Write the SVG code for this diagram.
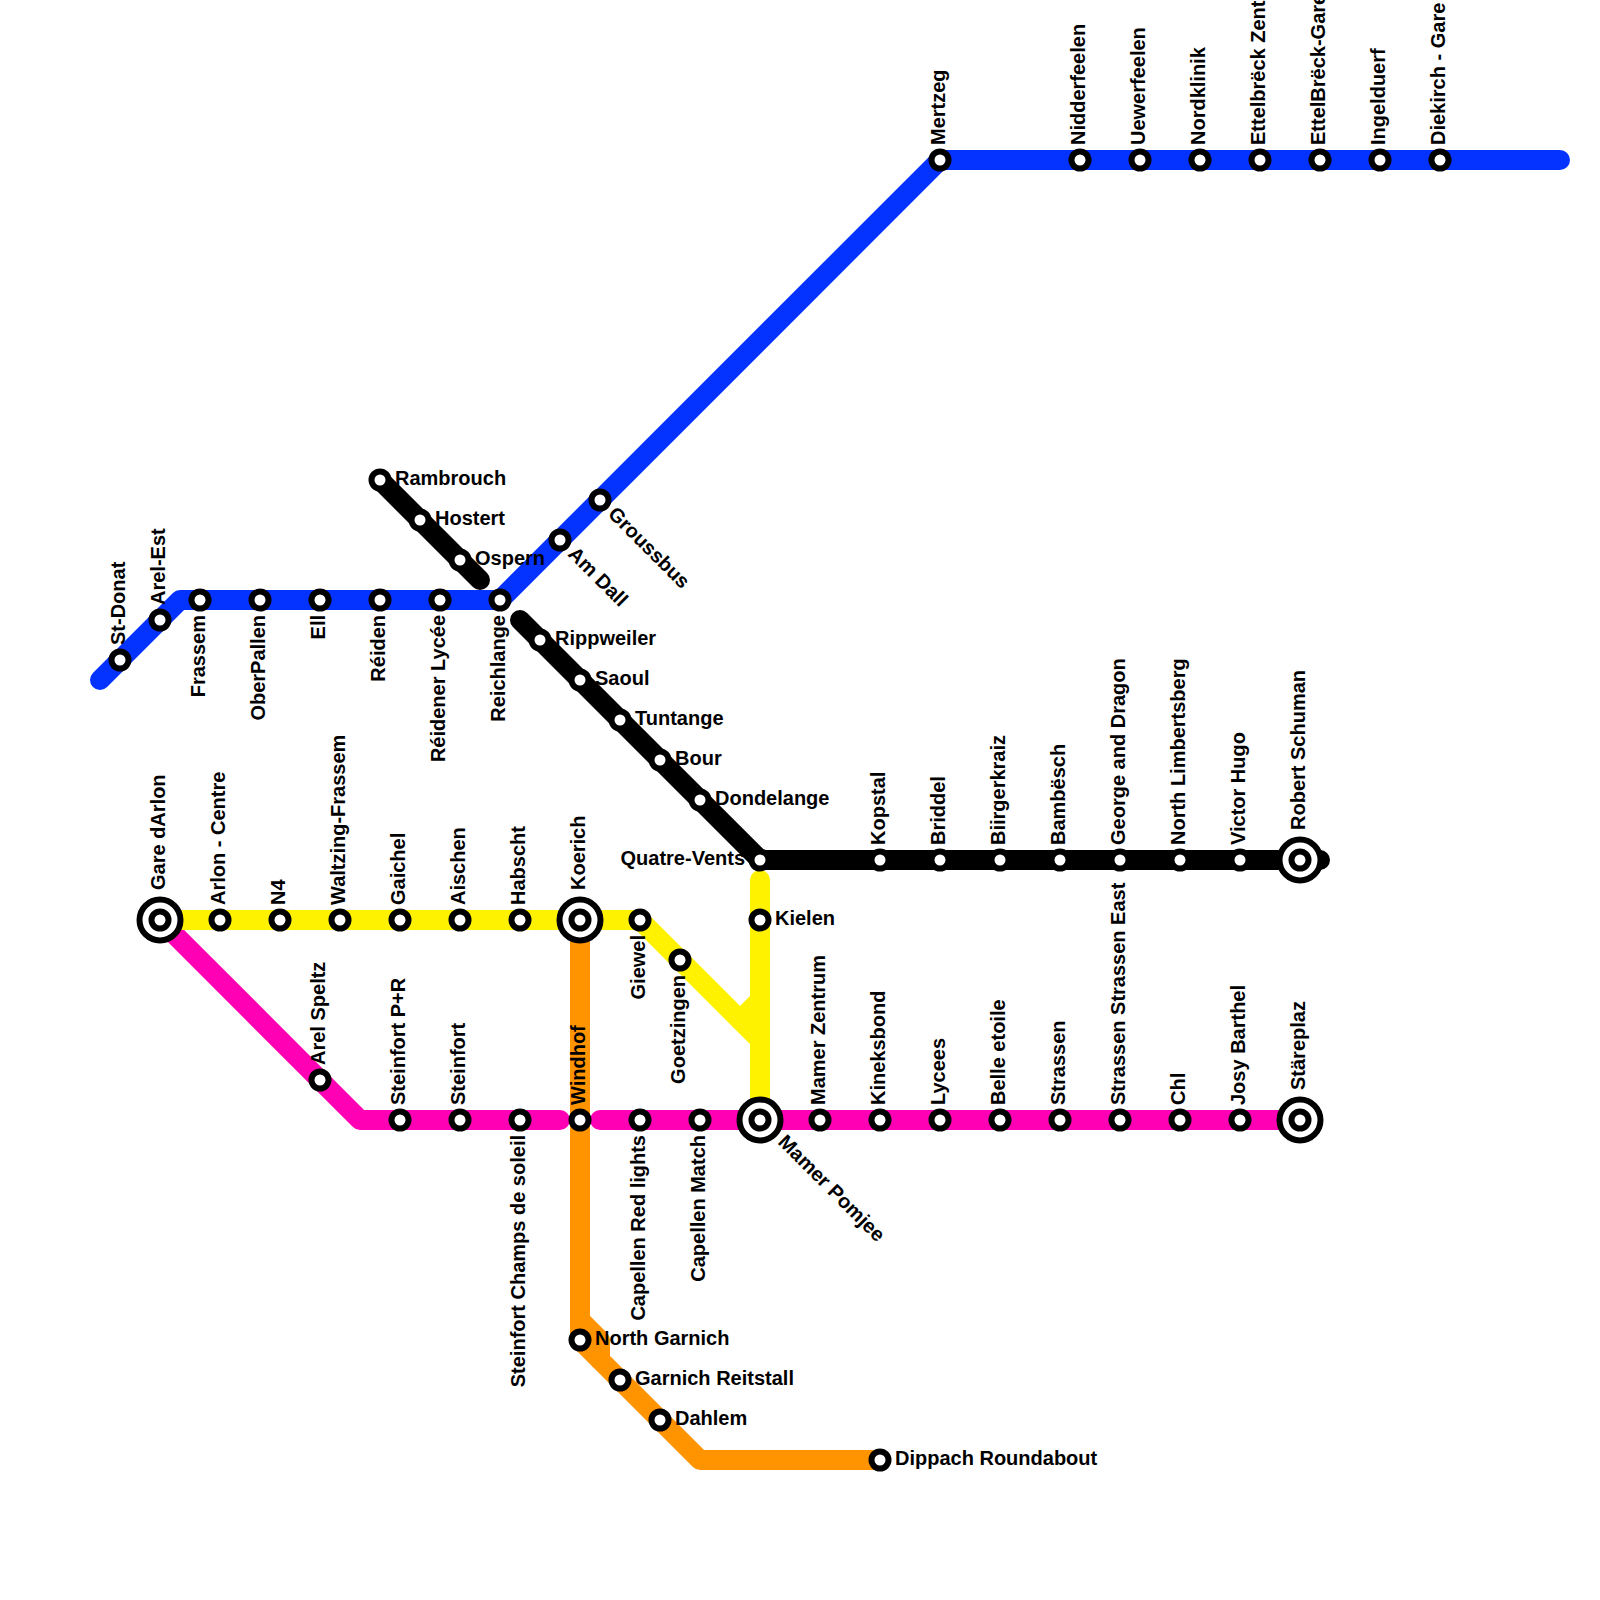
<svg xmlns="http://www.w3.org/2000/svg" width="1600" height="1600" viewBox="0 0 1600 1600">
<style>
.l{fill:none;stroke-width:20;stroke-linecap:round;stroke-linejoin:round}
.blue{stroke:#0433ff}.black{stroke:#000}.yellow{stroke:#fff200}.pink{stroke:#ff00b4}.orange{stroke:#ff9300}
.s{fill:#fff;stroke:#000;stroke-width:6}
text{font-family:"Liberation Sans",Arial,sans-serif;font-weight:bold;font-size:20px;fill:#000}
.e{text-anchor:end}
</style>
<rect width="1600" height="1600" fill="#fff"/>
<g id="connectors">
<path class="l pink" d="M160 920L360 1120H560"/>
<path class="l pink" d="M600 1120H1300"/>
<path class="l yellow" d="M160 920H640L760 1040"/>
<path class="l yellow" d="M760 880V1120"/>
<path class="l yellow" d="M760 1000L740 1020"/>
<path class="l orange" d="M580 920V1340L700 1460H880"/>
<path class="l orange" d="M580 1320L600 1340V1360"/>
<path class="l blue" d="M100 680L180 600H500L940 160H1560"/>
<path class="l black" d="M380 480L480 580"/>
<path class="l black" d="M520 620L760 860H1320"/>
</g>
<g id="n-st-donat"><circle class="s" cx="120" cy="660" r="8.5"/><text transform="translate(125 645) rotate(-90)">St-Donat</text></g>
<g id="n-arel-est"><circle class="s" cx="160" cy="620" r="8.5"/><text transform="translate(165 605) rotate(-90)">Arel-Est</text></g>
<g id="n-frassem"><circle class="s" cx="200" cy="600" r="8.5"/><text class="e" transform="translate(205 615) rotate(-90)">Frassem</text></g>
<g id="n-oberpallen"><circle class="s" cx="260" cy="600" r="8.5"/><text class="e" transform="translate(265 615) rotate(-90)">OberPallen</text></g>
<g id="n-ell"><circle class="s" cx="320" cy="600" r="8.5"/><text class="e" transform="translate(325 615) rotate(-90)">Ell</text></g>
<g id="n-reiden"><circle class="s" cx="380" cy="600" r="8.5"/><text class="e" transform="translate(385 615) rotate(-90)">Réiden</text></g>
<g id="n-reidener-lycee"><circle class="s" cx="440" cy="600" r="8.5"/><text class="e" transform="translate(445 615) rotate(-90)">Réidener Lycée</text></g>
<g id="n-reichlange"><circle class="s" cx="500" cy="600" r="8.5"/><text class="e" transform="translate(505 615) rotate(-90)">Reichlange</text></g>
<g id="n-am-dall"><circle class="s" cx="560" cy="540" r="8.5"/><text transform="translate(567 555) rotate(45)">Am Dall</text></g>
<g id="n-groussbus"><circle class="s" cx="600" cy="500" r="8.5"/><text transform="translate(607 515) rotate(45)">Groussbus</text></g>
<g id="n-mertzeg"><circle class="s" cx="940" cy="160" r="8.5"/><text transform="translate(945 145) rotate(-90)">Mertzeg</text></g>
<g id="n-nidderfeelen"><circle class="s" cx="1080" cy="160" r="8.5"/><text transform="translate(1085 145) rotate(-90)">Nidderfeelen</text></g>
<g id="n-uewerfeelen"><circle class="s" cx="1140" cy="160" r="8.5"/><text transform="translate(1145 145) rotate(-90)">Uewerfeelen</text></g>
<g id="n-nordklinik"><circle class="s" cx="1200" cy="160" r="8.5"/><text transform="translate(1205 145) rotate(-90)">Nordklinik</text></g>
<g id="n-ettelbreck-zent"><circle class="s" cx="1260" cy="160" r="8.5"/><text transform="translate(1265 145) rotate(-90)">Ettelbrëck Zent</text></g>
<g id="n-ettelbreck-gare"><circle class="s" cx="1320" cy="160" r="8.5"/><text transform="translate(1325 145) rotate(-90)">EttelBrëck-Gare</text></g>
<g id="n-ingelduerf"><circle class="s" cx="1380" cy="160" r="8.5"/><text transform="translate(1385 145) rotate(-90)">Ingelduerf</text></g>
<g id="n-diekirch"><circle class="s" cx="1440" cy="160" r="8.5"/><text transform="translate(1445 145) rotate(-90)">Diekirch - Gare</text></g>
<g id="n-rambrouch"><circle class="s" cx="380" cy="480" r="8.5"/><text x="395" y="485">Rambrouch</text></g>
<g id="n-hostert"><circle class="s" cx="420" cy="520" r="8.5"/><text x="435" y="525">Hostert</text></g>
<g id="n-ospern"><circle class="s" cx="460" cy="560" r="8.5"/><text x="475" y="565">Ospern</text></g>
<g id="n-rippweiler"><circle class="s" cx="540" cy="640" r="8.5"/><text x="555" y="645">Rippweiler</text></g>
<g id="n-saoul"><circle class="s" cx="580" cy="680" r="8.5"/><text x="595" y="685">Saoul</text></g>
<g id="n-tuntange"><circle class="s" cx="620" cy="720" r="8.5"/><text x="635" y="725">Tuntange</text></g>
<g id="n-bour"><circle class="s" cx="660" cy="760" r="8.5"/><text x="675" y="765">Bour</text></g>
<g id="n-dondelange"><circle class="s" cx="700" cy="800" r="8.5"/><text x="715" y="805">Dondelange</text></g>
<g id="n-quatre-vents"><circle class="s" cx="760" cy="860" r="8.5"/><text class="e" x="745" y="865">Quatre-Vents</text></g>
<g id="n-kopstal"><circle class="s" cx="880" cy="860" r="8.5"/><text transform="translate(885 845) rotate(-90)">Kopstal</text></g>
<g id="n-briddel"><circle class="s" cx="940" cy="860" r="8.5"/><text transform="translate(945 845) rotate(-90)">Briddel</text></g>
<g id="n-biirgerkraiz"><circle class="s" cx="1000" cy="860" r="8.5"/><text transform="translate(1005 845) rotate(-90)">Biirgerkraiz</text></g>
<g id="n-bambesch"><circle class="s" cx="1060" cy="860" r="8.5"/><text transform="translate(1065 845) rotate(-90)">Bambësch</text></g>
<g id="n-george"><circle class="s" cx="1120" cy="860" r="8.5"/><text transform="translate(1125 845) rotate(-90)">George and Dragon</text></g>
<g id="n-north-limbertsberg"><circle class="s" cx="1180" cy="860" r="8.5"/><text transform="translate(1185 845) rotate(-90)">North Limbertsberg</text></g>
<g id="n-victor-hugo"><circle class="s" cx="1240" cy="860" r="8.5"/><text transform="translate(1245 845) rotate(-90)">Victor Hugo</text></g>
<g id="n-robert-schuman"><circle class="s" cx="1300" cy="860" r="20.5"/><circle class="s" cx="1300" cy="860" r="8.5"/><text transform="translate(1305 830) rotate(-90)">Robert Schuman</text></g>
<g id="n-gare-darlon"><circle class="s" cx="160" cy="920" r="20.5"/><circle class="s" cx="160" cy="920" r="8.5"/><text transform="translate(165 890) rotate(-90)">Gare dArlon</text></g>
<g id="n-arlon-centre"><circle class="s" cx="220" cy="920" r="8.5"/><text transform="translate(225 905) rotate(-90)">Arlon - Centre</text></g>
<g id="n-n4"><circle class="s" cx="280" cy="920" r="8.5"/><text transform="translate(285 905) rotate(-90)">N4</text></g>
<g id="n-waltzing"><circle class="s" cx="340" cy="920" r="8.5"/><text transform="translate(345 905) rotate(-90)">Waltzing-Frassem</text></g>
<g id="n-gaichel"><circle class="s" cx="400" cy="920" r="8.5"/><text transform="translate(405 905) rotate(-90)">Gaichel</text></g>
<g id="n-aischen"><circle class="s" cx="460" cy="920" r="8.5"/><text transform="translate(465 905) rotate(-90)">Aischen</text></g>
<g id="n-habscht"><circle class="s" cx="520" cy="920" r="8.5"/><text transform="translate(525 905) rotate(-90)">Habscht</text></g>
<g id="n-koerich"><circle class="s" cx="580" cy="920" r="20.5"/><circle class="s" cx="580" cy="920" r="8.5"/><text transform="translate(585 890) rotate(-90)">Koerich</text></g>
<g id="n-giewel"><circle class="s" cx="640" cy="920" r="8.5"/><text class="e" transform="translate(645 935) rotate(-90)">Giewel</text></g>
<g id="n-goetzingen"><circle class="s" cx="680" cy="960" r="8.5"/><text class="e" transform="translate(685 975) rotate(-90)">Goetzingen</text></g>
<g id="n-kielen"><circle class="s" cx="760" cy="920" r="8.5"/><text x="775" y="925">Kielen</text></g>
<g id="n-arel-speltz"><circle class="s" cx="320" cy="1080" r="8.5"/><text transform="translate(325 1065) rotate(-90)">Arel Speltz</text></g>
<g id="n-steinfort-pr"><circle class="s" cx="400" cy="1120" r="8.5"/><text transform="translate(405 1105) rotate(-90)">Steinfort P+R</text></g>
<g id="n-steinfort"><circle class="s" cx="460" cy="1120" r="8.5"/><text transform="translate(465 1105) rotate(-90)">Steinfort</text></g>
<g id="n-champs"><circle class="s" cx="520" cy="1120" r="8.5"/><text class="e" transform="translate(525 1135) rotate(-90)">Steinfort Champs de soleil</text></g>
<g id="n-windhof"><circle class="s" cx="580" cy="1120" r="8.5"/><text transform="translate(585 1105) rotate(-90)">Windhof</text></g>
<g id="n-red-lights"><circle class="s" cx="640" cy="1120" r="8.5"/><text class="e" transform="translate(645 1135) rotate(-90)">Capellen Red lights</text></g>
<g id="n-match"><circle class="s" cx="700" cy="1120" r="8.5"/><text class="e" transform="translate(705 1135) rotate(-90)">Capellen Match</text></g>
<g id="n-mamer-pomjee"><circle class="s" cx="760" cy="1120" r="20.5"/><circle class="s" cx="760" cy="1120" r="8.5"/><text transform="translate(777 1143) rotate(45)">Mamer Pomjee</text></g>
<g id="n-mamer-zentrum"><circle class="s" cx="820" cy="1120" r="8.5"/><text transform="translate(825 1105) rotate(-90)">Mamer Zentrum</text></g>
<g id="n-kineksbond"><circle class="s" cx="880" cy="1120" r="8.5"/><text transform="translate(885 1105) rotate(-90)">Kineksbond</text></g>
<g id="n-lycees"><circle class="s" cx="940" cy="1120" r="8.5"/><text transform="translate(945 1105) rotate(-90)">Lycees</text></g>
<g id="n-belle-etoile"><circle class="s" cx="1000" cy="1120" r="8.5"/><text transform="translate(1005 1105) rotate(-90)">Belle etoile</text></g>
<g id="n-strassen"><circle class="s" cx="1060" cy="1120" r="8.5"/><text transform="translate(1065 1105) rotate(-90)">Strassen</text></g>
<g id="n-strassen-east"><circle class="s" cx="1120" cy="1120" r="8.5"/><text transform="translate(1125 1105) rotate(-90)">Strassen Strassen East</text></g>
<g id="n-chl"><circle class="s" cx="1180" cy="1120" r="8.5"/><text transform="translate(1185 1105) rotate(-90)">Chl</text></g>
<g id="n-josy-barthel"><circle class="s" cx="1240" cy="1120" r="8.5"/><text transform="translate(1245 1105) rotate(-90)">Josy Barthel</text></g>
<g id="n-stareplaz"><circle class="s" cx="1300" cy="1120" r="20.5"/><circle class="s" cx="1300" cy="1120" r="8.5"/><text transform="translate(1305 1090) rotate(-90)">Stäreplaz</text></g>
<g id="n-north-garnich"><circle class="s" cx="580" cy="1340" r="8.5"/><text x="595" y="1345">North Garnich</text></g>
<g id="n-garnich-reitstall"><circle class="s" cx="620" cy="1380" r="8.5"/><text x="635" y="1385">Garnich Reitstall</text></g>
<g id="n-dahlem"><circle class="s" cx="660" cy="1420" r="8.5"/><text x="675" y="1425">Dahlem</text></g>
<g id="n-dippach"><circle class="s" cx="880" cy="1460" r="8.5"/><text x="895" y="1465">Dippach Roundabout</text></g>
</svg>
